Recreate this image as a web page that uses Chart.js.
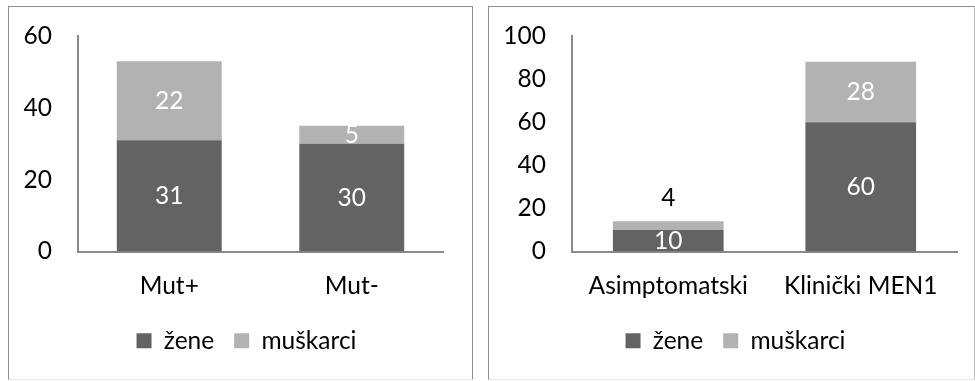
<!DOCTYPE html>
<html lang="hr">
<head>
  <meta charset="UTF-8" />
  <title>Mut / MEN1 po spolu</title>
  <script src="https://cdn.jsdelivr.net/npm/chart.js"></script>
  <style>
    html, body { margin: 0; padding: 0; background: #fff; }
    body { width: 975px; height: 381px; position: relative; overflow: hidden; }
    .box { position: absolute; top: 6px; height: 372px; border: 1px solid #8f8f8f; border-bottom-color: #e6e6e6; background: #fff; }
    #box1 { left: 8px; width: 463px; }
    #box2 { left: 488px; width: 485px; border-right-color: #bdbdbd; }
    canvas { display: block; }
  </style>
</head>
<body>
<div class="box" id="box1"><canvas id="chart1" width="463" height="372"></canvas></div>
<div class="box" id="box2"><canvas id="chart2" width="485" height="372"></canvas></div>

<script>
  // data
  const seriesNames = ['žene', 'muškarci'];

  const cats1 = ['Mut+', 'Mut-'];
  const zene1 = [31, 30];
  const muskarci1 = [22, 5];
  const yTicks1 = [0, 20, 40, 60];

  const cats2 = ['Asimptomatski', 'Klinički MEN1'];
  const zene2 = [10, 60];
  const muskarci2 = [4, 28];
  const yTicks2 = [0, 20, 40, 60, 80, 100];

  const DARK = '#636363';
  const LIGHT = '#b2b2b2';
  const AXIS = '#8a8a8a';
  const FONT = 'Lato';
  const FS = 24.5;

  // value labels inside the segments (small ones go above the stack, in black)
  const valueLabels = {
    id: 'valueLabels',
    afterDatasetsDraw(chart) {
      const ctx = chart.ctx;
      ctx.save();
      ctx.font = FS + 'px ' + FONT;
      ctx.textAlign = 'center';
      ctx.textBaseline = 'middle';
      chart.data.datasets.forEach((ds, di) => {
        const meta = chart.getDatasetMeta(di);
        meta.data.forEach((bar, i) => {
          const v = ds.data[i];
          const h = Math.abs(bar.base - bar.y);
          if (h < 12) {
            ctx.fillStyle = '#000';
            ctx.fillText(String(v), bar.x, bar.y - 23);
          } else {
            ctx.fillStyle = '#fff';
            ctx.fillText(String(v), bar.x, (bar.y + bar.base) / 2);
          }
        });
      });
      ctx.restore();
    }
  };

  // padLeft + yWidth = where the y axis sits; padLeft also nudges the legend right
  function makeChart(id, cats, zene, muskarci, ticks, padLeft, yWidth, rightGap) {
    return new Chart(document.getElementById(id), {
      type: 'bar',
      data: {
        labels: cats,
        datasets: [
          { label: seriesNames[0], data: zene, backgroundColor: DARK, borderWidth: 0 },
          { label: seriesNames[1], data: muskarci, backgroundColor: LIGHT, borderWidth: 0 }
        ]
      },
      options: {
        responsive: false,
        animation: false,
        events: [],
        layout: { padding: { top: 29, right: 0, left: padLeft, bottom: 16 } },
        datasets: { bar: { categoryPercentage: 1, barPercentage: 0.575 } },
        scales: {
          x: {
            stacked: true,
            grid: { display: false, drawTicks: false },
            border: { display: true, color: AXIS, width: 2 },
            ticks: { color: '#000', font: { family: FONT, size: FS }, padding: 20 },
            afterFit: s => { s.height = 57; }
          },
          y: {
            stacked: true,
            min: ticks[0],
            max: ticks[ticks.length - 1],
            afterBuildTicks: s => { s.ticks = ticks.map(v => ({ value: v })); },
            // gap between labels and axis comes from the (hidden) tick length
            grid: { display: false, drawTicks: true, tickLength: 26 },
            border: { display: true, color: AXIS, width: 2 },
            ticks: { color: '#000', font: { family: FONT, size: FS }, padding: 0 },
            afterFit: s => { s.width = yWidth; }
          },
          // empty right-hand spacer so the plot ends where the original does
          spacer: {
            type: 'linear',
            position: 'right',
            grid: { display: false, drawTicks: false },
            border: { display: false },
            ticks: { display: false },
            afterFit: s => { s.width = rightGap; }
          }
        },
        plugins: {
          legend: {
            position: 'bottom',
            labels: {
              color: '#000',
              font: { family: FONT, size: FS },
              boxWidth: 15,
              boxHeight: 15,
              padding: 20
            }
          },
          tooltip: { enabled: false }
        }
      },
      plugins: [valueLabels]
    });
  }

  makeChart('chart1', cats1, zene1, muskarci1, yTicks1, 12, 57, 29);
  makeChart('chart2', cats2, zene2, muskarci2, yTicks2, 8, 75, 17);
</script>
</body>
</html>
